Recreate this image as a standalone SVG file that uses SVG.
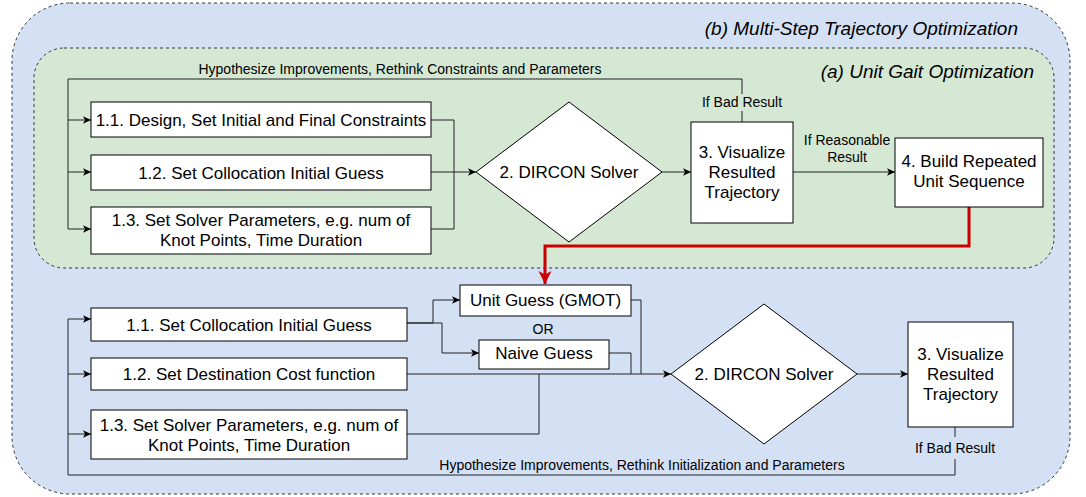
<svg xmlns="http://www.w3.org/2000/svg" width="1086" height="497" viewBox="0 0 1086 497">
  <defs>
    <marker id="arr" markerUnits="userSpaceOnUse" markerWidth="10" markerHeight="10" viewBox="0 0 10 10" refX="9" refY="5" orient="auto">
      <path d="M1,1.2 L9,5 L1,8.8 L3,5 z" fill="#000"/>
    </marker>
    <marker id="arrRed" markerUnits="userSpaceOnUse" markerWidth="14" markerHeight="14" viewBox="0 0 14 14" refX="13" refY="7" orient="auto">
      <path d="M0,0.5 L13,7 L0,13.5 L3.5,7 z" fill="#CC0000"/>
    </marker>
  </defs>
  <style>
    .box { fill: #ffffff; stroke: #000000; stroke-width: 1; }
    .t { font-family: "Liberation Sans", Arial, Helvetica, sans-serif; font-size: 17px; fill: #000; text-anchor: middle; }
    .s { font-family: "Liberation Sans", Arial, Helvetica, sans-serif; font-size: 14px; fill: #000; text-anchor: middle; }
    .title { font-family: "Liberation Sans", Arial, Helvetica, sans-serif; font-size: 19px; font-style: italic; fill: #000; text-anchor: end; }
    .c { fill: none; stroke: #222; stroke-width: 1; }
    .ca { fill: none; stroke: #222; stroke-width: 1; marker-end: url(#arr); }
  </style>

  <g id="container-b">
    <rect x="12" y="3" width="1058" height="491" rx="58" ry="58" fill="#D4E1F5" stroke="#333" stroke-width="1" stroke-dasharray="3 3"/>
    <text class="title" x="1018" y="35">(b) Multi-Step Trajectory Optimization</text>
  </g>
  <g id="container-a">
    <rect x="34" y="48" width="1020" height="220" rx="30" ry="30" fill="#D5E8D4" stroke="#333" stroke-width="1" stroke-dasharray="3 3"/>
    <text class="title" x="1034" y="78">(a) Unit Gait Optimization</text>
  </g>

  <g id="connectors">
    <!-- top section -->
    <path class="c" d="M742,122 L742,111"/>
    <path class="c" d="M742,94 L742,79 L68,79 L68,229"/>
    <path class="ca" d="M68,120 L91,120"/>
    <path class="ca" d="M68,172 L91,172"/>
    <path class="ca" d="M68,229 L91,229"/>
    <path class="c" d="M431,120 L454,120 L454,172"/>
    <path class="c" d="M431,229 L454,229 L454,172"/>
    <path class="ca" d="M431,172 L476,172"/>
    <path class="ca" d="M662,172 L691,172"/>
    <path class="ca" d="M793,172 L895,172"/>
    <path d="M969,207 L969,246 L545,246 L545,284" fill="none" stroke="#CC0000" stroke-width="3" marker-end="url(#arrRed)"/>
    <!-- bottom section -->
    <path class="ca" d="M407,323 L433,323 L433,300 L460,300"/>
    <path class="ca" d="M407,323 L442,323 L442,353 L479,353"/>
    <path class="c" d="M631,300 L641,300 L641,374"/>
    <path class="c" d="M609,353 L631,353 L631,374"/>
    <path class="ca" d="M407,374 L671,374"/>
    <path class="c" d="M407,434 L539,434 L539,374"/>
    <path class="ca" d="M857,374 L908,374"/>
    <path class="c" d="M955,427 L955,437"/>
    <path class="c" d="M955,459 L955,475 L68,475 L68,319"/>
    <path class="ca" d="M68,319 L91,319"/>
    <path class="ca" d="M68,374 L91,374"/>
    <path class="ca" d="M68,434 L91,434"/>
    <!-- edge labels -->
    <text class="s" x="400" y="74">Hypothesize Improvements, Rethink Constraints and Parameters</text>
    <text class="s" x="742" y="107">If Bad Result</text>
    <text class="s" x="847" y="145">If Reasonable</text>
    <text class="s" x="847" y="162">Result</text>
    <text class="s" x="642" y="470">Hypothesize Improvements, Rethink Initialization and Parameters</text>
    <text class="s" x="955" y="453">If Bad Result</text>
  </g>

  <g id="a-1-1">
    <rect class="box" x="91" y="102" width="340" height="35"/>
    <text class="t" x="261" y="125.5">1.1. Design, Set Initial and Final Constraints</text>
  </g>
  <g id="a-1-2">
    <rect class="box" x="91" y="155" width="340" height="35"/>
    <text class="t" x="261" y="178.5">1.2. Set Collocation Initial Guess</text>
  </g>
  <g id="a-1-3">
    <rect class="box" x="91" y="207" width="340" height="47"/>
    <text class="t" x="261" y="225.5">1.3. Set Solver Parameters, e.g. num of</text>
    <text class="t" x="261" y="245.5">Knot Points, Time Duration</text>
  </g>
  <g id="a-2">
    <polygon class="box" points="476,172 569,102 662,172 569,242"/>
    <text class="t" x="569" y="178">2. DIRCON Solver</text>
  </g>
  <g id="a-3">
    <rect class="box" x="691" y="122" width="102" height="101"/>
    <text class="t" x="742" y="157.5">3. Visualize</text>
    <text class="t" x="742" y="177.5">Resulted</text>
    <text class="t" x="742" y="197.5">Trajectory</text>
  </g>
  <g id="a-4">
    <rect class="box" x="895" y="138" width="148" height="69"/>
    <text class="t" x="969" y="167">4. Build Repeated</text>
    <text class="t" x="969" y="187">Unit Sequence</text>
  </g>

  <g id="b-unit-guess">
    <rect class="box" x="460" y="285" width="171" height="31"/>
    <text class="t" x="545.5" y="306">Unit Guess (GMOT)</text>
  </g>
  <g id="b-or">
    <text class="s" x="543" y="334">OR</text>
  </g>
  <g id="b-naive-guess">
    <rect class="box" x="479" y="340" width="130" height="29"/>
    <text class="t" x="544" y="359">Naive Guess</text>
  </g>
  <g id="b-1-1">
    <rect class="box" x="91" y="308" width="316" height="33"/>
    <text class="t" x="249" y="330.5">1.1. Set Collocation Initial Guess</text>
  </g>
  <g id="b-1-2">
    <rect class="box" x="91" y="358" width="316" height="32"/>
    <text class="t" x="249" y="380">1.2. Set Destination Cost function</text>
  </g>
  <g id="b-1-3">
    <rect class="box" x="91" y="410" width="316" height="49"/>
    <text class="t" x="249" y="430.5">1.3. Set Solver Parameters, e.g. num of</text>
    <text class="t" x="249" y="450.5">Knot Points, Time Duration</text>
  </g>
  <g id="b-2">
    <polygon class="box" points="671,374 764,304 857,374 764,444"/>
    <text class="t" x="764" y="380">2. DIRCON Solver</text>
  </g>
  <g id="b-3">
    <rect class="box" x="908" y="322" width="105" height="105"/>
    <text class="t" x="960.5" y="360">3. Visualize</text>
    <text class="t" x="960.5" y="380">Resulted</text>
    <text class="t" x="960.5" y="400">Trajectory</text>
  </g>
</svg>
